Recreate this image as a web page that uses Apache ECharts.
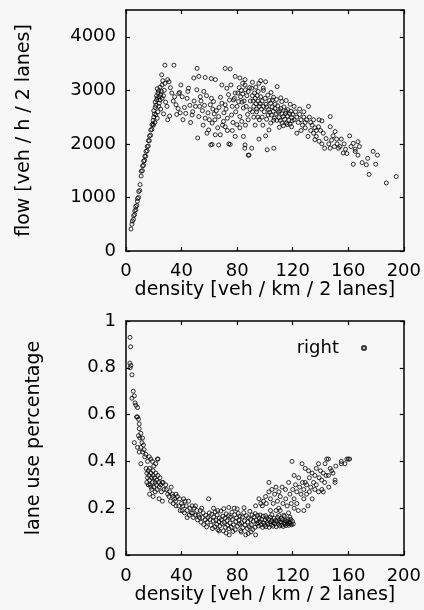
<!DOCTYPE html>
<html>
<head>
<meta charset="utf-8">
<script src="https://cdn.jsdelivr.net/npm/echarts@6/dist/echarts.min.js"></script>
<style>
  html, body { margin: 0; padding: 0; background: #f7f7f7; }
  #chart { width: 424px; height: 610px; }
</style>
</head>
<body>
<div id="chart"></div>
<script>
// density ticks shared by both panels
const densityTicks = [0, 40, 80, 120, 160, 200];
const flowTicks = [0, 1000, 2000, 3000, 4000];
const shareTicks = [0, 0.2, 0.4, 0.6, 0.8, 1];

// ---- upper panel: flow vs density, [density, flow] ----
const flowRising = [
  [3.6,410],[4.3,500],[4.6,560],[5.4,590],[5.5,660],[6.2,680],[6.3,750],[7.1,770],[7.0,830],[7.8,850],
  [8.2,930],[8.3,980],[9.1,1000],[9.2,1110],[9.9,1130],[10.1,1240],[10.9,1400],[11.0,1490],[11.8,1500],
  [11.9,1590],[12.6,1600],[12.7,1680],[13.4,1690],[13.5,1770],[14.2,1770],[14.4,1860],[15.2,1870],
  [15.3,1950],[16.0,1960],[16.1,2060],[16.8,2060],[16.9,2150],[17.7,2160],[17.8,2260],[18.6,2270],
  [18.7,2360],[19.4,2370]
];
const flowPeak = [
  [19.5,2440],[20,2500],[20.5,2560],[20,2620],[21,2680],[21.5,2720],[21,2780],[22,2820],[22.5,2860],
  [22,2900],[23,2950],[23.5,2990],[22.5,3030],[24,2760],[24.5,2820],[24,2880],[25,2920],[25.5,2980],
  [24.5,3060],[26,3100],[25.7,3290],[23,2600],[21.5,2540],[22.5,2480],[20.8,2400],[19.8,2350],
  [23.5,2700],[25,2650],[26,2850],[27,2900],[27.5,3000],[26.5,3180],[28,3470],[34.5,3470],[28.5,2780],
  [29.5,2700],[30,2450],[27,2560],[28,3130],[30,3200],[31,3160],[32,3050],[31.4,2520]
];
const flowCongested = [
  [33,2950],[35,2880],[36,2730],[37.5,2660],[38,2940],[39,2580],[40.5,2880],[38.6,2960],[36.5,2550],
  [34,2800],[39.5,3100],
  [43,2570],[44,2850],[45,3040],[46,2720],[47.6,2540],[48.8,3230],[42,2680],[49,2800],[41,2450],
  [46.5,2400],[48,2600],[44.5,2980],[50,2700],
  [51,3010],[51.2,3410],[51.6,2110],[52.4,3260],[52.4,2510],[54,2800],[55,2620],[56,2980],[57,2480],
  [57,3240],[58.3,2200],[59.5,2260],[53,2700],[55.5,2350],[58,2900],[59,2580],[53.5,2880],[56.5,2720],[60,2450],
  [60.7,2730],[61.4,3220],[62,2390],[62,1990],[63,2790],[64.3,3200],[64.3,2170],[66.7,2510],[66.7,1980],
  [67.9,2170],[69,3100],[69,2760],[61,1980],[65,2620],[68,2870],[63.5,2560],[66,2300],[61.5,2850],
  [67,2680],[64,2450],[69.5,2350],[62.5,2650],
  [70.2,2420],[71.4,2730],[71.4,2320],[71.4,3410],[72.6,3040],[73.8,2920],[74,2000],[75,3400],[75,1990],
  [76,2540],[77.4,2820],[78.6,2950],[78.6,3260],[78.6,2140],[79.8,2360],[70.5,2580],[72,2650],[73,2480],
  [74.5,2820],[76.5,2700],[77,2400],[79,2600],[75.5,3100],[78,2850],[73,2250],[76.5,2250],
  [81,2790],[82,3230],[82,2510],[83.3,2420],[84.5,2670],[84.5,2140],[85.5,1920],[85.7,3200],[85.7,3100],
  [85.7,1980],[88,2450],[88,1790],[88.6,1790],[89.3,2640],[80.5,2950],[81.5,3050],[82.5,2880],[83,3000],
  [84,2930],[85,2800],[86,3010],[87,2900],[88,2980],[89,3050],[86.5,2700],[87.5,2550],[80,2700],
  [83.5,2780],[84,3130],[89.5,2800],[86,2350],[82,2300],
  [90.5,3040],[90.5,1920],[94,2600],[95.2,2980],[95.7,3130],[95.7,2090],[98.8,3040],[91,2900],[91.5,2800],
  [92,2700],[92.5,2950],[93,2850],[93.5,2750],[94,2650],[94.5,2900],[95,2800],[96,2700],[96.5,2750],
  [97,2880],[97.5,2650],[98,2800],[99,2700],[99.5,2600],[92,2500],[93,2350],[96,2450],[98,2500],
  [91,3150],[97,3180],[99,3000],[93.5,3060],[95,2500],[91,2600],[98.5,2350],
  [100.5,3160],[100.5,2150],[101.6,1890],[102.9,2260],[106.4,1920],[108.8,3070],[100.2,2850],[100.8,2740],
  [101.3,2690],[102.1,2910],[102.6,2640],[103.2,2810],[103.4,2590],[104.1,2760],[104.7,2540],[105.2,2690],
  [105.4,2820],[106.1,2610],[106.8,2480],[107.2,2660],[107.4,2740],[108.1,2560],[108.6,2440],[109.2,2710],
  [109.7,2590],[101.2,2460],[102.3,2540],[104.2,2390],[106.3,2440],[104.4,2960],[106.2,2870],[108.3,2830],
  [110.2,2490],[110.7,2620],[111.1,2440],[111.6,2660],[112.3,2560],[112.4,2390],[113.1,2510],[113.7,2690],
  [114.2,2460],[114.8,2570],[115.1,2610],[115.6,2390],[116.3,2520],[116.4,2640],[117.2,2440],[117.8,2560],
  [118.1,2370],[118.7,2610],[119.3,2490],[119.6,2430],[112.2,2790],[115.3,2810],[118.2,2740],[110.4,2310],
  [113.3,2340],[116.1,2360],[119.2,2320],[111.4,2860]
];
const flowTail = [
  [120,2550],[121,2450],[122,2600],[123,2500],[123,2200],[124,2400],[125,2550],[126,2450],[127,2350],
  [128,2500],[129,2400],[130,2450],[121,2700],[125,2650],[128,2600],[126,2250],[129,2300],[131,2140],[131.4,2700],
  [132,2500],[133,2400],[134,2350],[135,2450],[136,2300],[136,2080],[137,2140],[138.6,2320],[139,2450],
  [140,2250],[141,2430],[142,2200],[143,1920],[144,2100],[137,2250],[139,2050],[141,2000],[133,2250],[135,2200],
  [147,2510],[147,2320],[147,1920],[148,2070],[150.5,2230],[151.6,2090],[153,1920],[155,2090],[156.4,1830],
  [146,2000],[149,2150],[152,2000],[154,1950],[157,2000],[158,1900],[150,1950],[159,1820],
  [161,2150],[163.6,2010],[163.6,1620],[165,1860],[167,2040],[167,1790],[173,1610],[174,1730],[175,1430],
  [177.9,1860],[179.8,1620],[181,1790],[187.4,1270],[194.5,1390],[162,1950],[165,1900],[170,1650],[168,1950]
];

// ---- lower panel: right lane use vs density, [density, share] ----
const shareFreeFlow = [
  [2.9,0.93],[3.3,0.89],[2.8,0.82],[3.5,0.81],[3.0,0.80],[4.3,0.77],[5.2,0.70],[4.3,0.67],[6.0,0.68],
  [7.1,0.64],[8.3,0.63],[6.5,0.65],[8.3,0.59],[9.0,0.58],[7.6,0.59],[9.5,0.56],[9.5,0.54],[10.7,0.52],
  [9.0,0.51],[11.9,0.50],[10.0,0.50],[6.0,0.48],[8.3,0.46],[10.7,0.46],[9.5,0.44],[13.0,0.45],[11.5,0.48],
  [12.5,0.47],[14.3,0.43],[16.7,0.42],[17.9,0.41],[22.6,0.41],[21.4,0.39],[10.7,0.39],[15.5,0.40],
  [13.5,0.42],[19,0.40],[12,0.44]
];
const shareCluster = [
  [14.5,0.37],[15,0.35],[15.5,0.33],[16,0.36],[16.5,0.34],[17,0.32],[17,0.37],[17.5,0.30],[18,0.35],
  [18.5,0.33],[18.5,0.28],[19,0.31],[19.5,0.36],[19.5,0.34],[20,0.29],[20.5,0.33],[21,0.31],[21,0.27],
  [21.5,0.35],[22,0.32],[22,0.30],[22.5,0.28],[23,0.34],[23,0.41],[23.5,0.31],[24,0.29],[24.5,0.33],
  [25,0.30],[25.5,0.27],[16,0.30],[18,0.29],[20,0.38],[26,0.31],[26.7,0.31],[27.4,0.28],[28.6,0.30],
  [29,0.28],[23.8,0.24],[26.2,0.23],[31,0.25],[17,0.26],[19.5,0.25],[15,0.31]
];
const shareDescent = [
  [30,0.26],[31.5,0.27],[32,0.23],[33.3,0.26],[33.8,0.25],[34,0.22],[35,0.24],[35.7,0.23],[36,0.21],
  [37,0.25],[38,0.21],[38.6,0.24],[39,0.19],[40,0.22],[40.5,0.19],[41,0.21],[42,0.18],[42.5,0.23],
  [43.3,0.21],[44,0.19],[45,0.23],[45.5,0.17],[46,0.20],[47,0.18],[47.6,0.21],[48,0.18],[48.5,0.16],
  [49,0.20],[50,0.17],[51,0.19],[51.5,0.15],[52,0.17],[52.9,0.16],[53.5,0.19],[54,0.14],[55,0.16],
  [55.5,0.18],[56,0.13],[57,0.15],[57.5,0.17],[58,0.12],[58.5,0.14],[59,0.16],[59.5,0.24],[60,0.18],
  [36,0.26],[41.5,0.24],[44,0.16],[50,0.21],[54.5,0.20],[32.5,0.29]
];
const shareValley = [
  [60.4,0.152],[61.2,0.128],[61.7,0.174],[62.3,0.113],[62.8,0.145],[63.1,0.163],[63.9,0.121],[64.2,0.184],
  [64.8,0.149],[65.3,0.131],[65.6,0.171],[66.1,0.108],[66.9,0.142],[67.2,0.158],[67.6,0.124],[68.3,0.188],
  [68.6,0.151],[69.2,0.134],[69.8,0.166],[70.1,0.103],[70.7,0.139],[71.3,0.157],[71.6,0.118],[72.2,0.176],
  [72.7,0.147],[73.1,0.127],[73.8,0.168],[74.1,0.112],[74.3,0.086],[74.9,0.137],[75.2,0.161],[75.7,0.119],
  [76.3,0.183],[76.6,0.152],[77.3,0.129],[77.9,0.2],[78.2,0.172],[78.7,0.108],[79.1,0.143],[79.6,0.158],
  [80.3,0.123],[80.8,0.178],[81.2,0.149],[81.8,0.132],[82.1,0.166],[82.6,0.104],[83.2,0.138],[83.7,0.162],
  [84.1,0.117],[84.8,0.181],[85.3,0.146],[85.6,0.128],[86.2,0.086],[86.7,0.168],[87.3,0.113],[87.6,0.141],
  [88.1,0.159],[88.7,0.121],[89.2,0.187],[89.7,0.152],[90.2,0.129],[90.8,0.171],[91.3,0.109],[91.6,0.144],
  [92.2,0.163],[92.8,0.118],[93.1,0.177],[93.3,0.086],[93.8,0.148],[94.3,0.133],[94.6,0.169],[95.1,0.139],
  [63,0.2],[66,0.19],[70.4,0.198],[74,0.203],[80,0.197],[85,0.202],[88,0.092],[72,0.094],[77,0.101],
  [83,0.098],[67,0.103],[90,0.099]
];
const shareLowBand = [
  [95.4,0.124],[95.9,0.158],[96.6,0.141],[97.2,0.129],[97.6,0.152],[98.3,0.118],[98.7,0.166],[99.1,0.137],
  [99.8,0.127],[100.2,0.149],[100.7,0.121],[101.3,0.159],[101.6,0.139],[102.2,0.131],[102.7,0.152],[103.1,0.119],
  [103.8,0.162],[104.3,0.142],[104.6,0.128],[105.2,0.147],[105.8,0.123],[106.1,0.138],[106.7,0.157],[107.3,0.133],
  [107.6,0.148],[108.2,0.121],[108.8,0.143],[109.1,0.161],[109.7,0.131],[110.3,0.149],[110.6,0.124],[111.2,0.141],
  [111.8,0.156],[112.1,0.128],[112.7,0.151],[113.2,0.122],[113.9,0.139],[114.3,0.132],[114.7,0.147],[115.2,0.126],
  [115.8,0.143],[116.3,0.133],[116.6,0.151],[117.2,0.127],[117.7,0.141],[118.3,0.134],[118.6,0.152],[119.2,0.129],
  [119.8,0.144],[120.4,0.133],[96.5,0.171],[100.5,0.168],[105,0.172],[110,0.169],[114,0.165],[118,0.162]
];
const shareRising = [
  [93.3,0.21],[95.7,0.24],[98.1,0.21],[100.5,0.25],[102.9,0.27],[102.9,0.31],[97,0.22],[99,0.23],[101,0.22],
  [104,0.24],[105,0.28],[106,0.22],[107,0.26],[108,0.29],[109,0.23],[110,0.27],[111,0.19],[111,0.25],
  [112.4,0.29],[113,0.22],[113.6,0.17],[114.8,0.28],[115,0.24],[116,0.21],[117,0.18],[117.1,0.31],
  [118,0.26],[119,0.22],[119.5,0.40],[120,0.28],[121,0.34],[121,0.24],[122,0.30],[123,0.27],[124.3,0.33],
  [125,0.29],[126,0.26],[126.7,0.39],[127,0.31],[128,0.28],[129,0.31],[129,0.37],[130,0.30],[131.4,0.36],
  [132,0.33],[133,0.29],[134,0.35],[135,0.31],[136,0.34],[137,0.30],[138.6,0.39],[139,0.33],[140,0.36],
  [140.9,0.32],[142,0.35],[143.3,0.39],[144,0.34],[144.5,0.41],[145.7,0.34],[145.7,0.41],[147,0.37],
  [148,0.36],[149,0.35],[150.5,0.32],[151,0.38],[155,0.39],[155,0.40],[157.6,0.39],[159,0.41],[160,0.41],
  [161,0.41],[128,0.24],[132,0.27],[136,0.28],[130,0.26],[141,0.28],[123,0.22],[137,0.37],[143,0.31],
  [146,0.29],[110,0.20],[104,0.19],[108,0.19],[128,0.19],[131,0.21],[134,0.24],[138.6,0.27],[142,0.27],
  [150.5,0.31],[124,0.19],[121,0.20]
];

const FONT = 'DejaVu Sans';
const INK = '#000';

function baseAxis(extra) {
  return Object.assign({
    axisLine: { show: true, onZero: false, lineStyle: { color: INK, width: 1.5 } },
    axisTick: { show: true, inside: true, length: 4, lineStyle: { color: INK, width: 1.2 } },
    splitLine: { show: false },
    axisLabel: { show: false },
  }, extra);
}

function labelStyle(margin, fmt) {
  return {
    show: true, color: INK, fontFamily: FONT, fontSize: 18, margin,
    formatter: fmt || ((v) => String(v)), showMaxLabel: true,
  };
}

const nameStyle = { color: INK, fontFamily: FONT, fontSize: 19 };

const dots = {
  symbol: 'circle',
  symbolSize: 4,
  itemStyle: { color: 'transparent', borderColor: INK, borderWidth: 1 },
};

const option = {
  backgroundColor: '#f7f7f7',
  animation: false,
  grid: [
    { left: 126, top: 10, width: 280, height: 241 },
    { left: 126, top: 321, width: 280, height: 234 },
  ],
  legend: {
    data: ['right'],
    right: 52,
    top: 334,
    align: 'right',
    icon: 'circle',
    itemWidth: 4,
    itemHeight: 4,
    textStyle: { color: INK, fontFamily: FONT, fontSize: 18, padding: [0, 18, 0, 0] },
  },
  xAxis: [
    baseAxis({
      gridIndex: 0, type: 'value', min: densityTicks[0], max: densityTicks[densityTicks.length - 1], interval: 40,
      position: 'bottom', axisLabel: labelStyle(11),
      name: 'density [veh / km / 2 lanes]', nameLocation: 'middle', nameGap: 28, nameTextStyle: nameStyle,
    }),
    baseAxis({ gridIndex: 0, type: 'value', min: 0, max: 200, interval: 40, position: 'top' }),
    baseAxis({
      gridIndex: 1, type: 'value', min: densityTicks[0], max: densityTicks[densityTicks.length - 1], interval: 40,
      position: 'bottom', axisLabel: labelStyle(12),
      name: 'density [veh / km / 2 lanes]', nameLocation: 'middle', nameGap: 30, nameTextStyle: nameStyle,
    }),
    baseAxis({ gridIndex: 1, type: 'value', min: 0, max: 200, interval: 40, position: 'top' }),
  ],
  yAxis: [
    baseAxis({
      gridIndex: 0, type: 'value', min: flowTicks[0], max: 4500, interval: 1000, position: 'left',
      axisLabel: Object.assign(labelStyle(10), { showMaxLabel: false }),
      name: 'flow [veh / h / 2 lanes]', nameLocation: 'middle', nameGap: 92, nameTextStyle: nameStyle,
    }),
    baseAxis({ gridIndex: 0, type: 'value', min: 0, max: 4500, interval: 1000, position: 'right' }),
    baseAxis({
      gridIndex: 1, type: 'value', min: shareTicks[0], max: shareTicks[shareTicks.length - 1], interval: 0.2,
      position: 'left', axisLabel: labelStyle(10, (v) => (v === 0 || v === 1 ? String(v) : v.toFixed(1))),
      name: 'lane use percentage', nameLocation: 'middle', nameGap: 82, nameTextStyle: nameStyle,
    }),
    baseAxis({ gridIndex: 1, type: 'value', min: 0, max: 1, interval: 0.2, position: 'right' }),
  ],
  series: [
    Object.assign({
      name: 'flow', type: 'scatter', xAxisIndex: 0, yAxisIndex: 0,
      data: [].concat(flowRising, flowPeak, flowCongested, flowTail),
    }, dots),
    Object.assign({
      name: 'right', type: 'scatter', xAxisIndex: 2, yAxisIndex: 2,
      data: [].concat(shareFreeFlow, shareCluster, shareDescent, shareValley, shareLowBand, shareRising),
    }, dots),
  ],
};

const chart = echarts.init(document.getElementById('chart'));
chart.setOption(option);
</script>
</body>
</html>
